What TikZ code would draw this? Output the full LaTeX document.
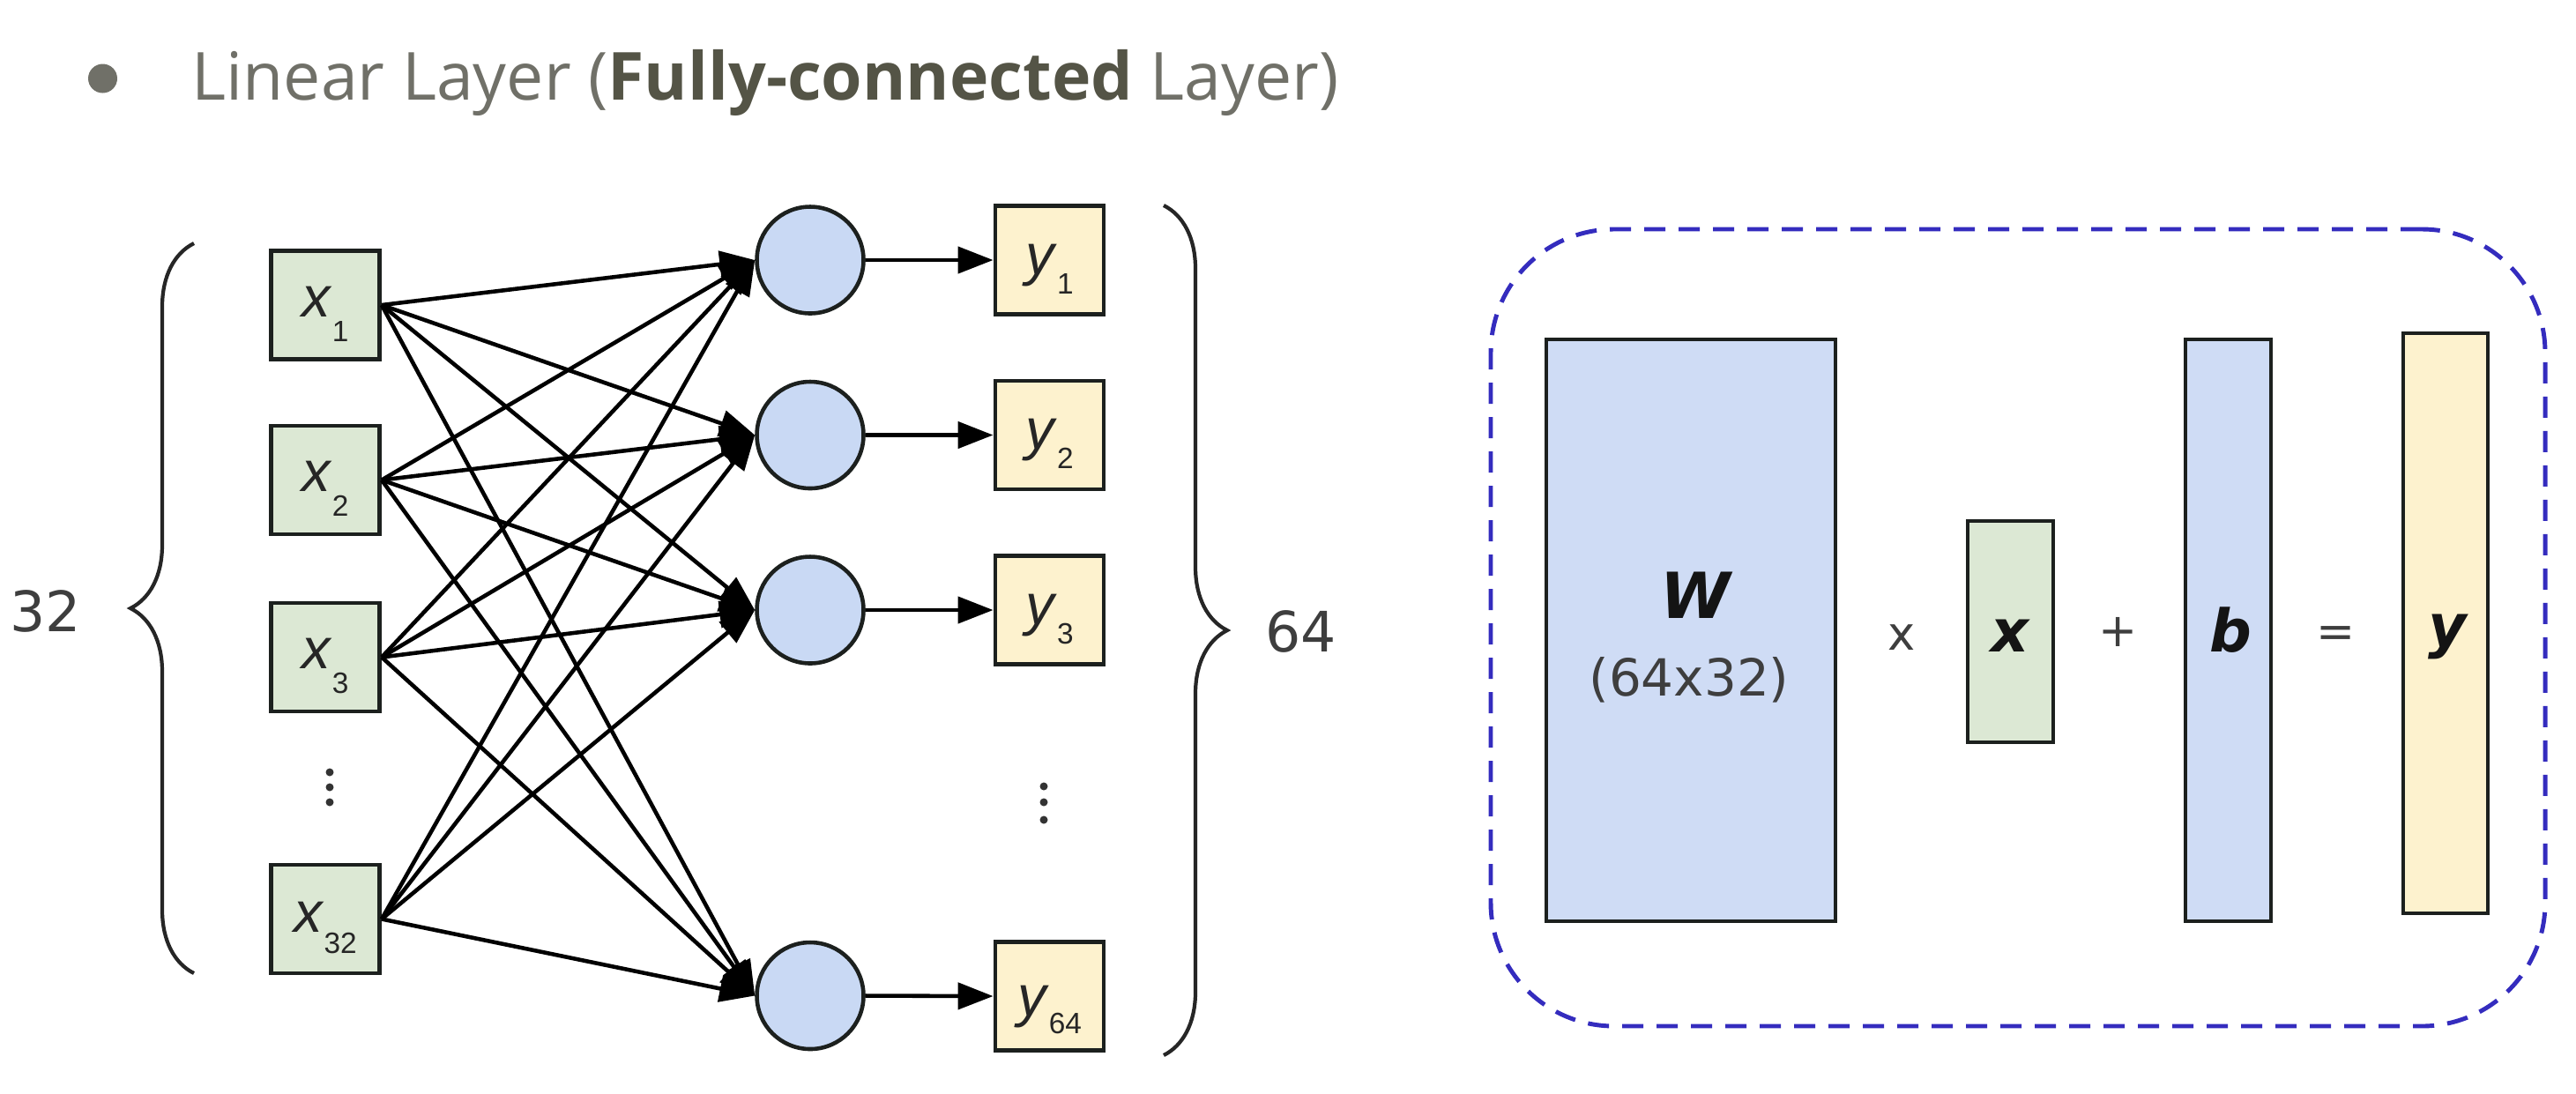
\documentclass[tikz,border=0pt]{standalone}
\usepackage{fontspec}
\setmainfont{Liberation Sans}
\newfontfamily\titlefont{Open Sans}
\newfontfamily\verdfont{DejaVu Sans}
\usepackage{tikz}
\usetikzlibrary{arrows.meta,positioning,calc,decorations.pathreplacing}
\definecolor{inGreen}{RGB}{220,232,212}
\definecolor{hidBlue}{RGB}{201,217,244}
\definecolor{outYellow}{RGB}{253,242,206}
\definecolor{matBlue}{RGB}{207,220,245}
\definecolor{edgeDark}{RGB}{28,32,30}
\definecolor{dashBlue}{RGB}{52,44,190}
\definecolor{titleGray}{RGB}{112,112,104}
\definecolor{titleDark}{RGB}{84,84,70}
\definecolor{labelGray}{RGB}{62,62,62}
% variable with a lowered index
\newcommand{\nsub}[3][0.26cm]{\textit{#2}\raisebox{-#1}{\fontsize{9.5}{9.5}\selectfont #3}}

\begin{document}
\begin{tikzpicture}[
    inbox/.style={draw=edgeDark,line width=1.4pt,fill=inGreen,
      minimum width=1.23cm,minimum height=1.23cm,inner sep=0pt},
    hid/.style={circle,draw=edgeDark,line width=1.3pt,fill=hidBlue,
      minimum size=1.21cm,inner sep=0pt},
    outbox/.style={draw=edgeDark,line width=1.4pt,fill=outYellow,
      minimum width=1.23cm,minimum height=1.23cm,inner sep=0pt},
    lbl/.style={inner sep=0pt,font=\fontsize{18.5}{18.5}\selectfont,text=black!85},
    link/.style={-{Triangle[length=4mm,width=3mm]},line width=1.3pt,color=black},
    brc/.style={decorate,decoration={brace,amplitude=0.72cm},line width=1.2pt,color=black!85},
    cnt/.style={inner sep=0pt,font=\verdfont\fontsize{18}{18}\selectfont,text=labelGray},
    matrect/.style={draw=edgeDark,line width=1.2pt,inner sep=0pt},
    sym/.style={inner sep=0pt,font=\verdfont\bfseries\itshape\fontsize{19}{19}\selectfont,text=black!92},
    op/.style={inner sep=0pt,font=\verdfont\fontsize{15}{15}\selectfont,text=labelGray},
    panel/.style={draw=dashBlue,line width=1.4pt,dash pattern=on 2.4mm off 1.5mm,
      rounded corners=1.4cm}
  ]
    \useasboundingbox (0,0) rectangle (29.22,-12.40);

    % heading
    \node[circle,fill=titleGray,minimum size=0.33cm,inner sep=0pt] (bullet) at (1.165,-0.89) {};
    \node[anchor=base west,inner sep=0pt,font=\titlefont\fontsize{21.4}{26}\selectfont,
      text=titleGray] (title) at (2.17,-1.13)
      {Linear Layer ({\bfseries\color{titleDark}Fully-connected} Layer)};

    % network: inputs, neurons, outputs
    \node[inbox] (x1) at (3.69,-3.46) {};
    \node[inbox] (x2) at (3.69,-5.445) {};
    \node[inbox] (x3) at (3.69,-7.455) {};
    \node[inbox] (x32) at (3.69,-10.425) {};
    \node[hid] (h1) at (9.19,-2.95) {};
    \node[hid] (h2) at (9.19,-4.935) {};
    \node[hid] (h3) at (9.19,-6.92) {};
    \node[hid] (h64) at (9.19,-11.295) {};
    \node[outbox] (y1) at (11.905,-2.95) {};
    \node[outbox] (y2) at (11.905,-4.935) {};
    \node[outbox] (y3) at (11.905,-6.92) {};
    \node[outbox] (y64) at (11.905,-11.30) {};

    \draw[link] (x1.east) -- (h1.west);
    \draw[link] (x1.east) -- (h2.west);
    \draw[link] (x1.east) -- (h3.west);
    \draw[link] (x1.east) -- (h64.west);
    \draw[link] (x2.east) -- (h1.west);
    \draw[link] (x2.east) -- (h2.west);
    \draw[link] (x2.east) -- (h3.west);
    \draw[link] (x2.east) -- (h64.west);
    \draw[link] (x3.east) -- (h1.west);
    \draw[link] (x3.east) -- (h2.west);
    \draw[link] (x3.east) -- (h3.west);
    \draw[link] (x3.east) -- (h64.west);
    \draw[link] (x32.east) -- (h1.west);
    \draw[link] (x32.east) -- (h2.west);
    \draw[link] (x32.east) -- (h3.west);
    \draw[link] (x32.east) -- (h64.west);
    \draw[link] (h1.east) -- (y1.west);
    \draw[link] (h2.east) -- (y2.west);
    \draw[link] (h3.east) -- (y3.west);
    \draw[link] (h64.east) -- (y64.west);

    \node[lbl] (x1t) at ([yshift=-1mm]x1.center) {\nsub[0.28cm]{x}{1}};
    \node[lbl] (x2t) at ([yshift=-1mm]x2.center) {\nsub[0.28cm]{x}{2}};
    \node[lbl] (x3t) at ([yshift=-1mm]x3.center) {\nsub[0.28cm]{x}{3}};
    \node[lbl] (x32t) at ([yshift=-1mm]x32.center) {\nsub[0.24cm]{x}{32}};
    \node[lbl] (y1t) at ([yshift=-1mm]y1.center) {\nsub[0.22cm]{y}{1}};
    \node[lbl] (y2t) at ([yshift=-1mm]y2.center) {\nsub[0.22cm]{y}{2}};
    \node[lbl] (y3t) at ([yshift=-1mm]y3.center) {\nsub[0.22cm]{y}{3}};
    \node[lbl] (y64t) at ([yshift=-1.5mm]y64.center) {\nsub[0.2cm]{y}{64}};

    \foreach \d in {-8.76,-8.93,-9.10} \fill[black!80] (3.74,\d) circle (0.045);
    \foreach \d in {-8.92,-9.10,-9.30} \fill[black!80] (11.84,\d) circle (0.045);

    % layer sizes
    \coordinate (lbot) at (2.20,-11.04);
    \coordinate (ltop) at (2.20,-2.76);
    \coordinate (rtop) at (13.20,-2.33);
    \coordinate (rbot) at (13.20,-11.97);
    \draw[brc] (lbot) -- (ltop);
    \draw[brc] (rtop) -- (rbot);
    \node[cnt] (nin) at (0.52,-6.93) {32};
    \node[cnt] (nout) at (14.755,-7.16) {64};

    % matrix form
    \node[panel,minimum width=11.96cm,minimum height=9.04cm] (panel) at (22.89,-7.12) {};
    \node[matrect,fill=matBlue,minimum width=3.28cm,minimum height=6.60cm] (W) at (19.18,-7.15) {};
    \node[matrect,fill=inGreen,minimum width=0.97cm,minimum height=2.51cm] (xv) at (22.805,-7.165) {};
    \node[matrect,fill=matBlue,minimum width=0.97cm,minimum height=6.60cm] (bv) at (25.275,-7.15) {};
    \node[matrect,fill=outYellow,minimum width=0.96cm,minimum height=6.58cm] (yv) at (27.74,-7.07) {};

    \node[sym,font=\verdfont\bfseries\itshape\fontsize{20.5}{20.5}\selectfont] (Wt) at (19.23,-6.75) {W};
    \node[op,font=\verdfont\fontsize{16.5}{16.5}\selectfont] (Wdim) at (19.16,-7.715) {(64x32)};
    \node[sym] (xt) at (22.80,-7.21) {x};
    \node[sym] (bt) at (25.30,-7.15) {b};
    \node[sym] (yt) at (27.76,-7.22) {y};
    \node[op] (times) at (21.57,-7.23) {x};
    \node[op] (plus) at (24.03,-7.17) {+};
    \node[op] (eq) at (26.50,-7.23) {=};
  \end{tikzpicture}
\end{document}
